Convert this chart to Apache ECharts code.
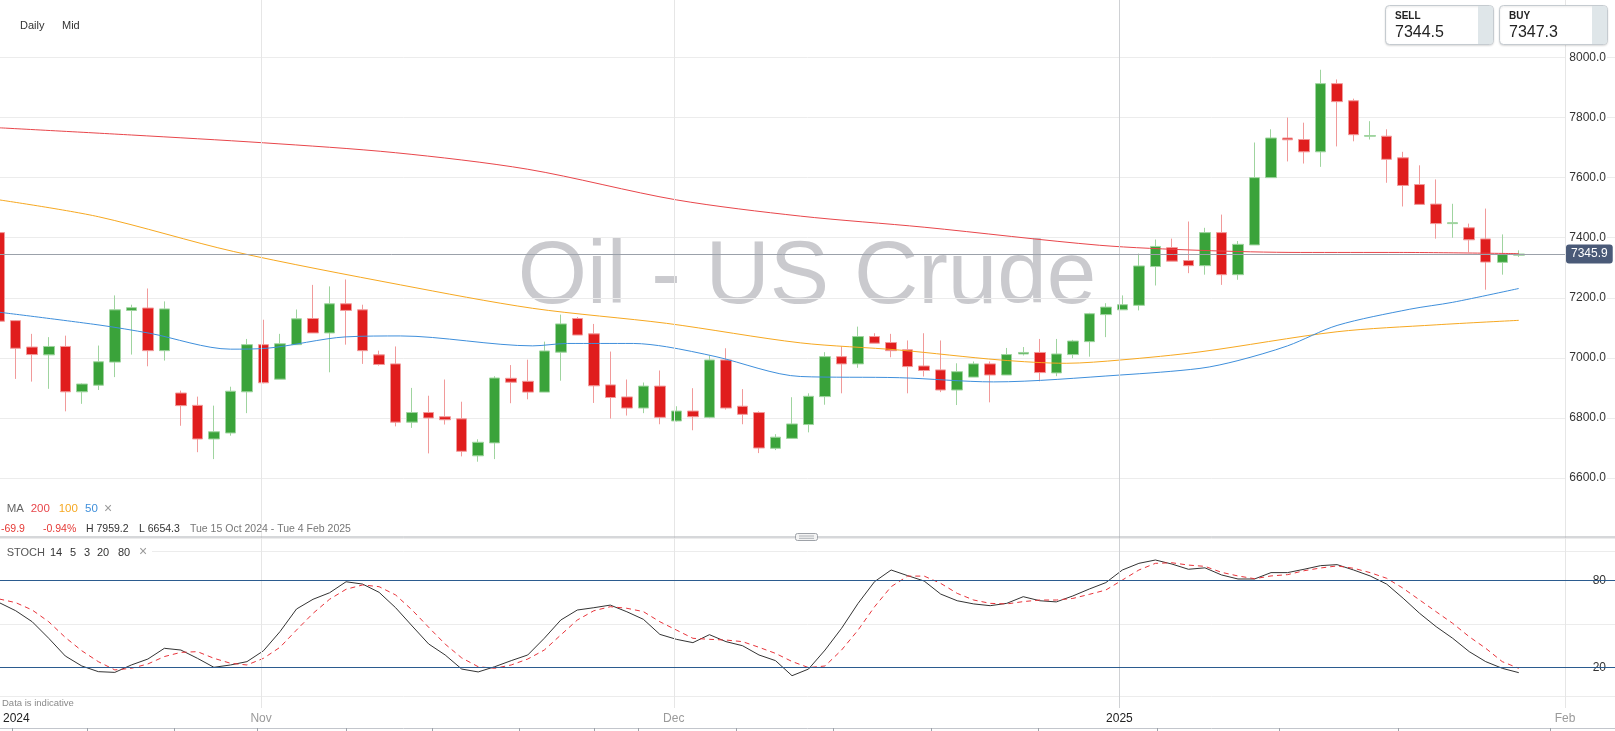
<!DOCTYPE html>
<html><head><meta charset="utf-8">
<script src="https://cdn.jsdelivr.net/npm/echarts@6/dist/echarts.min.js"></script>
<style>html,body{margin:0;padding:0;background:#fff}#c{width:1615px;height:731px}</style>
</head><body><div id="c"></div>
<script>
// ---- DATA (daily candles, Mon 14 Oct 2024 .. 29 Jan 2025; index = position) ----
// [open, close, low, high]
const candles = [
[7417,7122,7115,7420],[7124,7032,6930,7126],[7036,7011,6921,7080],[7010,7038,6897,7069],[7038,6887,6822,7074],
[6887,6913,6847,6915],[6909,6987,6893,7041],[6986,7160,6936,7208],[7158,7167,7011,7177],[7166,7024,6972,7231],
[7024,7163,6991,7188],[6883,6841,6774,6891],[6842,6730,6686,6871],[6730,6754,6663,6841],[6750,6889,6741,6904],
[6887,7044,6816,7063],[7044,6917,6915,7127],[6929,7047,6929,7080],[7044,7130,7044,7161],[7131,7083,7083,7243],
[7083,7180,6952,7238],[7180,7158,7044,7261],[7160,7024,6980,7177],[7010,6978,6974,7024],[6980,6786,6772,7038],
[6786,6818,6767,6900],[6818,6800,6682,6874],[6804,6794,6778,6928],[6797,6689,6672,6854],[6674,6719,6654.3,6729],
[6717,6933,6663,6939],[6932,6919,6849,6976],[6922,6886,6862,6994],[6886,7023,6886,7054],[7019,7113,6924,7144],
[7131,7076,7076,7136],[7080,6907,6850,7113],[6910,6868,6798,7021],[6870,6833,6808,6928],[6833,6906,6816,6918],
[6906,6802,6779,6958],[6790,6823,6788,6839],[6823,6804,6759,6899],[6802,6993,6799,7008],[6993,6833,6828,7032],
[6839,6812,6779,6896],[6818,6700,6683,6822],[6699,6736,6693,6746],[6732,6780,6730,6869],[6778,6872,6752,6882],
[6871,7004,6844,7019],[7004,6980,6882,7038],[6980,7071,6967,7104],[7071,7049,7049,7082],[7051,7024,7002,7080],
[7027,6971,6882,7058],[6973,6958,6938,7082],[6960,6893,6886,7058],[6893,6954,6843,6982],[6936,6980,6936,6988],
[6980,6943,6852,6988],[6943,7011,6943,7033],[7013,7018,7008,7036],[7018,6951,6922,7063],[6950,7013,6939,7063],
[7011,7056,6999,7060],[7054,7147,7004,7150],[7144,7169,7069,7182],[7160,7177,7160,7208],[7175,7306,7158,7347],
[7304,7371,7241,7394],[7367,7322,7322,7397],[7324,7307,7282,7454],[7307,7417,7277,7433],[7417,7277,7243,7477],
[7277,7378,7260,7389],[7376,7600,7376,7717],[7600,7732,7600,7761],[7732,7726,7654,7800],[7727,7686,7647,7783],
[7686,7913,7636,7959.2],[7913,7853,7704,7927],[7856,7743,7721,7863],[7738,7740,7727,7788],[7738,7661,7583,7761],
[7666,7574,7504,7686],[7577,7511,7511,7641],[7512,7447,7397,7594],[7447,7450,7400,7513],[7433,7393,7352,7447],
[7396,7319,7227,7497],[7318,7344,7277,7411],[7342,7345.9,7336,7358]
];
// moving averages: [candle index, value]
const ma200 = [[0,7766],[8,7742],[16,7716],[24,7683],[32,7628],[41,7526],[48.5,7472],[56,7435],[66.6,7375],[72.7,7358],[78.8,7351],[84.8,7351],[92,7347]];
const ma100 = [[0,7526],[6,7470],[14.2,7354],[24.3,7243],[32.3,7165],[40.4,7115],[48.5,7050],[54.5,7026],[60.6,6993],[64.6,6982],[67.9,6993],[72.7,7020],[81,7087],[87,7110],[92,7125]];
const ma50  = [[0,7152],[6.1,7109],[9.1,7082],[14,7029],[16.2,7032],[21,7070],[24.3,7073],[32.3,7040],[34.4,7048],[38.4,7048],[40.4,7037],[43.4,7004],[48.5,6938],[54.5,6934],[60.2,6920],[67.9,6943],[72.7,6965],[75,6991],[78,7040],[81,7108],[85.4,7162],[88,7185],[92,7231]];
// stochastic 14,5,3
const stochK = [64.6,59,51.4,40,27.8,20.9,17,16.5,21.6,25.7,33.1,31.9,26.2,20,21.6,23.9,31.4,44.6,60.2,66.9,
71.4,79,77.4,71.7,61.1,48.5,36.1,28.5,18.8,16.8,20.4,24.6,28.5,40,52.6,59.5,61.1,62.9,58.3,53.1,
42.7,39.3,37,42.5,37.7,34.9,28.5,24.6,14.2,18.8,31.9,46.9,64.1,79.1,87.1,83.2,79.5,70.5,65.9,63.7,
62.5,64.1,68.7,65.9,65.1,69.2,74,78.4,87.1,91.7,94,91.2,87.6,88.6,83.7,80.9,80.9,85.3,85.3,87.6,
90.1,90.8,87.1,83,77.4,67.6,57.2,48,40,30.8,23.9,19.3,16.3];
const stochD = [67.1,64.6,59.5,51.4,40.6,31.4,23.9,18.2,19.3,22.3,27.4,30.3,30.8,26.2,22.8,21.6,26.2,33.8,45.7,57.2,
66.9,73.8,76.8,75.6,69.9,59.5,47.6,36,26.5,20.4,19.3,21.6,25.7,31.9,42.3,52.6,59,61.8,60.7,58.4,
51.4,45.7,40,39.3,38.8,37.7,33.8,29.6,24,19.8,20.9,31.9,45.7,61.8,75.6,82.9,82.9,77.9,71,66.4,
64.1,63.7,65.3,66.4,66.4,67.5,70.3,73.3,80.2,87.1,91.7,92.1,90.5,89.6,85.5,83,81.1,83,83.9,86.6,
88.5,89.9,88.3,85.3,81.4,74.5,66.4,58.3,50.3,41.1,33.1,23.9,19.3];
const stochLevels = [20, 80];
// time axis marks (position in candle units)
const monthMarks = [
  {at: 0.97, label: '2024', year: true, line: false},
  {at: 15.8, label: 'Nov'},
  {at: 40.8, label: 'Dec'},
  {at: 67.8, label: '2025', year: true},
  {at: 94.8, label: 'Feb'}
];
const bottomTicks = [0.79, 5.33, 10.6, 15.65, 21.0, 26.2, 31.5, 36.0, 38.7, 44.6, 50.5, 56.4, 62.9, 70.1, 77.5, 84.7, 93.9];
const lastPrice = 7345.9;
const sellPrice = '7344.5', buyPrice = '7347.3';

// ---- LAYOUT ----
const W = 1615, H = 731;
const slot = 16.517;               // px per candle
const xMin = 0.048, xMax = xMin + W / slot;
const FONT = '"Liberation Sans", Arial, sans-serif';
const feb = monthMarks[monthMarks.length - 1].at;

const candleData = candles.map((c, i) => [i, c[0], c[1], c[2], c[3]]);
const kData = stochK.map((v, i) => [i, v]);
const dData = stochD.map((v, i) => [i, v]);

function xAxisBase(gridIndex) {
  return {type: 'value', gridIndex, min: xMin, max: xMax, show: false};
}
function txt(x, y, text, size, fill, extra) {
  return Object.assign({type: 'text', x, y, z: 10,
    style: {text, font: size + 'px ' + FONT, fill, verticalAlign: 'middle', textVerticalAlign: 'middle'}}, extra || {});
}

const chart = echarts.init(document.getElementById('c'), null, {renderer: 'canvas'});
const option = {
  animation: false,
  backgroundColor: '#fff',
  textStyle: {fontFamily: FONT},
  grid: [
    {left: 0, right: 0, top: 57.5, bottom: H - 538.1},
    {left: 0, right: 0, top: 551.3, bottom: H - 696.3},
    {left: 0, right: 0, top: 0, bottom: H - 708},
    {left: 0, right: 0, top: 727, bottom: H - 728}
  ],
  xAxis: [
    xAxisBase(0),
    xAxisBase(1),
    {type: 'value', gridIndex: 2, min: xMin, max: xMax, position: 'bottom',
     axisLine: {show: false}, axisTick: {show: false}, splitLine: {show: false},
     axisLabel: {
       show: true, margin: 5, fontSize: 12, fontFamily: FONT,
       customValues: monthMarks.map(m => m.at),
       formatter: v => { const m = monthMarks.find(mm => Math.abs(mm.at - v) < 1e-6); return m ? (m.year ? '{y|' + m.label + '}' : '{m|' + m.label + '}') : ''; },
       rich: {y: {color: '#222', fontSize: 12, fontFamily: FONT}, m: {color: '#9a9a9a', fontSize: 12, fontFamily: FONT}}
     }},
    {type: 'value', gridIndex: 3, min: xMin, max: xMax, position: 'bottom',
     axisLine: {show: true, lineStyle: {color: '#c3c6cc', width: 1}},
     axisTick: {show: true, customValues: bottomTicks, length: 4, lineStyle: {color: '#9da2aa'}},
     axisLabel: {show: false}, splitLine: {show: false}}
  ],
  yAxis: [
    {type: 'value', gridIndex: 0, min: 6400, max: 8000, interval: 200, position: 'right',
     axisLine: {show: false}, axisTick: {show: false},
     splitLine: {show: true, lineStyle: {color: '#ececec', width: 1}},
     axisLabel: {inside: true, margin: 8, showMinLabel: false, fontSize: 12, color: '#333', fontFamily: FONT,
       backgroundColor: '#fff', padding: [1, 1, 1, 4],
       formatter: v => v.toFixed(1)}},
    {type: 'value', gridIndex: 1, min: 0, max: 100, interval: 50, position: 'right',
     axisLine: {show: false}, axisTick: {show: false},
     splitLine: {show: true, lineStyle: {color: '#ececec', width: 1}},
     axisLabel: {inside: true, margin: 9, fontSize: 12, color: '#333', fontFamily: FONT, customValues: stochLevels}},
    {type: 'value', gridIndex: 2, min: 0, max: 1, show: false},
    {type: 'value', gridIndex: 3, min: 0, max: 1, show: false}
  ],
  series: [
    {name: 'months', type: 'line', xAxisIndex: 2, yAxisIndex: 2, data: [], z: 1, silent: true,
     markLine: {silent: true, symbol: ['none', 'none'], label: {show: false}, animation: false,
       data: monthMarks.filter(m => m.line !== false).map(m => ({xAxis: m.at,
         lineStyle: {color: m.year ? '#cfd1d4' : '#e6e6e6', width: 1, type: 'solid'}}))}},
    {name: 'price', type: 'candlestick', xAxisIndex: 0, yAxisIndex: 0, z: 3,
     dimensions: ['idx', 'open', 'close', 'lowest', 'highest'],
     encode: {x: 'idx', y: ['open', 'close', 'lowest', 'highest']},
     data: candleData, barWidth: 11,
     itemStyle: {color: '#3aa33a', color0: '#e01d1d', borderColor: '#9fd49f', borderColor0: '#f19a9a', borderWidth: 1},
     markLine: {silent: true, symbol: ['none', 'none'], animation: false,
       lineStyle: {color: '#9ba1aa', width: 1, type: 'solid'},
       label: {show: true, position: 'end', distance: 1, formatter: () => lastPrice.toFixed(1),
         color: '#fff', backgroundColor: '#4a5a78', padding: [4, 5, 3, 5], borderRadius: 3, fontSize: 12, fontFamily: FONT},
       data: [[{coord: [xMin, lastPrice]}, {coord: [feb, lastPrice]}]]}},
    {name: 'MA200', type: 'line', xAxisIndex: 0, yAxisIndex: 0, data: ma200, showSymbol: false, smooth: 0.3, z: 4,
     lineStyle: {color: '#e8464b', width: 1}},
    {name: 'MA100', type: 'line', xAxisIndex: 0, yAxisIndex: 0, data: ma100, showSymbol: false, smooth: 0.3, z: 4,
     lineStyle: {color: '#f6a821', width: 1}},
    {name: 'MA50', type: 'line', xAxisIndex: 0, yAxisIndex: 0, data: ma50, showSymbol: false, smooth: 0.3, z: 4,
     lineStyle: {color: '#3f8fdb', width: 1}},
    {name: '%K', type: 'line', xAxisIndex: 1, yAxisIndex: 1, data: kData, showSymbol: false, z: 4,
     lineStyle: {color: '#333', width: 1},
     markLine: {silent: true, symbol: ['none', 'none'], label: {show: false}, animation: false,
       lineStyle: {color: '#2b5b8f', width: 1.2, type: 'solid'},
       data: stochLevels.map(v => ({yAxis: v}))}},
    {name: '%D', type: 'line', xAxisIndex: 1, yAxisIndex: 1, data: dData, showSymbol: false, z: 4,
     lineStyle: {color: '#e8333a', width: 1, type: [5, 4]}}
  ],
  graphic: {elements: [
    {type: 'text', z: -5, x: 807, y: 278, silent: true,
     style: {text: 'Oil - US Crude', font: '89px ' + FONT, fill: '#cacace', align: 'center', verticalAlign: 'middle', textAlign: 'center', textVerticalAlign: 'middle'}},
    txt(20, 26, 'Daily', 11, '#333'),
    txt(62, 26, 'Mid', 11, '#333'),
    // SELL / BUY boxes
    {type: 'rect', z: 20, shape: {x: 1385.5, y: 5.5, width: 108, height: 39, r: 4},
     style: {fill: '#fff', stroke: '#c5cbd0', lineWidth: 1, shadowBlur: 2, shadowColor: 'rgba(0,0,0,0.12)', shadowOffsetY: 1}},
    {type: 'rect', z: 21, shape: {x: 1478, y: 6, width: 15, height: 38, r: [0, 3.5, 3.5, 0]}, style: {fill: '#dfe6e9'}},
    txt(1395, 16, 'SELL', 'bold 10', '#222', {z: 22}),
    txt(1395, 32.5, sellPrice, 16, '#222', {z: 22}),
    {type: 'rect', z: 20, shape: {x: 1499.5, y: 5.5, width: 108, height: 39, r: 4},
     style: {fill: '#fff', stroke: '#c5cbd0', lineWidth: 1, shadowBlur: 2, shadowColor: 'rgba(0,0,0,0.12)', shadowOffsetY: 1}},
    {type: 'rect', z: 21, shape: {x: 1592, y: 6, width: 15, height: 38, r: [0, 3.5, 3.5, 0]}, style: {fill: '#dfe6e9'}},
    txt(1509, 16, 'BUY', 'bold 10', '#222', {z: 22}),
    txt(1509, 32.5, buyPrice, 16, '#222', {z: 22}),
    // MA legend
    txt(6.7, 509, 'MA', 11.5, '#666'),
    txt(30.7, 509, '200', 11.5, '#e8464b'),
    txt(58.7, 509, '100', 11.5, '#f6a821'),
    txt(85, 509, '50', 11.5, '#3f8fdb'),
    txt(104, 509, '×', 14, '#9a9a9a'),
    // info line
    txt(1, 529, '-69.9', 10.5, '#e53935'),
    txt(43, 529, '-0.94%', 10.5, '#e53935'),
    txt(86, 529, 'H 7959.2', 10.5, '#333'),
    txt(139, 529, 'L 6654.3', 10.5, '#333'),
    txt(190, 529, 'Tue 15 Oct 2024 - Tue 4 Feb 2025', 10.5, '#777'),
    // separator between panels + handle
    {type: 'line', z: 10, shape: {x1: 0, y1: 537, x2: W, y2: 537}, style: {stroke: '#adb0b5', lineWidth: 1}},
    {type: 'rect', z: 11, shape: {x: 795.5, y: 533.5, width: 22, height: 7, r: 2}, style: {fill: '#f4f4f4', stroke: '#9ea2a8', lineWidth: 1}},
    {type: 'line', z: 12, shape: {x1: 799, y1: 536, x2: 814, y2: 536}, style: {stroke: '#9ea2a8', lineWidth: 0.8}},
    {type: 'line', z: 12, shape: {x1: 799, y1: 538.3, x2: 814, y2: 538.3}, style: {stroke: '#9ea2a8', lineWidth: 0.8}},
    // stoch legend
    {type: 'rect', z: 9, shape: {x: 0, y: 545, width: 152, height: 13}, style: {fill: '#fff'}},
    txt(6.7, 552.5, 'STOCH', 11, '#555'),
    txt(50, 552.5, '14', 11, '#333'),
    txt(70, 552.5, '5', 11, '#333'),
    txt(84, 552.5, '3', 11, '#333'),
    txt(97, 552.5, '20', 11, '#333'),
    txt(118, 552.5, '80', 11, '#333'),
    txt(139, 552.5, '×', 14, '#9a9a9a'),
    txt(2, 703, 'Data is indicative', 9.5, '#8a8a8a')
  ]}
};
chart.setOption(option);
</script></body></html>
